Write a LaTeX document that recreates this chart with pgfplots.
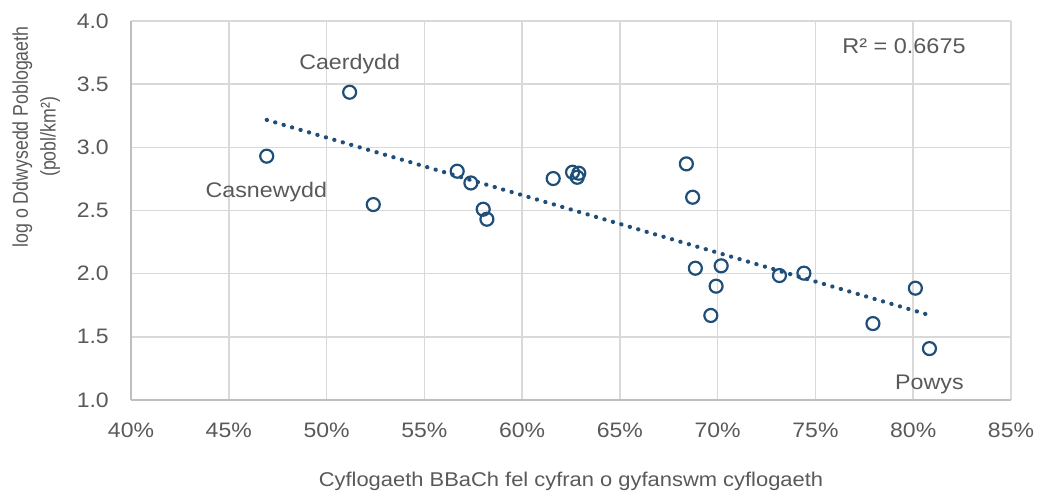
\documentclass[border=0pt]{standalone}
\usepackage{fontspec}
\setmainfont{Liberation Sans}
\usepackage{pgfplots}
\usepackage{pgfplotstable}
\pgfplotsset{compat=1.18}
\definecolor{mk}{HTML}{1F4E79}
\definecolor{grd}{HTML}{D9D9D9}
\definecolor{axl}{HTML}{BFBFBF}
\definecolor{txt}{HTML}{595959}
\pgfplotstableread{
x y
46.94 2.930
51.18 3.436
52.39 2.547
56.68 2.811
57.38 2.718
58.01 2.510
58.20 2.431
61.59 2.753
62.58 2.803
62.82 2.763
62.90 2.795
68.40 2.869
68.72 2.605
68.86 2.043
69.65 1.669
69.92 1.901
70.18 2.062
73.16 1.985
74.41 2.004
77.94 1.605
80.11 1.885
80.83 1.407
}\datatable
\begin{document}
\begin{tikzpicture}
\useasboundingbox (-131bp,-98bp) rectangle (908bp,400bp);
\begin{axis}[
  at={(0,0)}, anchor=south west,
  scale only axis, width=880bp, height=379bp,
  xmin=40, xmax=85, ymin=1, ymax=4,
  xtick={40,45,50,55,60,65,70,75,80,85},
  xticklabels={40\%,45\%,50\%,55\%,60\%,65\%,70\%,75\%,80\%,85\%},
  ytick={1,1.5,2,2.5,3,3.5,4},
  yticklabels={1.0,1.5,2.0,2.5,3.0,3.5,4.0},
  grid=major, major grid style={grd, line width=1.5bp},
  axis x line*=bottom, axis y line*=left,
  axis line style={axl, line width=1.5bp, -},
  major tick length=0pt,
  tick label style={font=\fontsize{21}{23}\selectfont, text=txt, xscale=1.1},
  xticklabel style={anchor=base, yshift=-37bp, inner sep=0pt},
  yticklabel style={anchor=east, xshift=-20bp, inner sep=0pt},
  clip=false,
]
\addplot[draw=mk, line width=4.2bp, line cap=round, dash pattern=on 0.2bp off 8.6bp, no marks]
  table[x=x, y={create col/linear regression={y=y}}]{\datatable};
\addplot[only marks, mark=o, mark size=6.5bp, mark options={mk, line width=2.2bp}]
  table[x=x, y=y]{\datatable};
\node[anchor=base, inner sep=0pt, xscale=1.1, font=\fontsize{21.2}{23}\selectfont, text=txt] at (axis cs:51.18,3.62) {Caerdydd};
\node[anchor=base, inner sep=0pt, xscale=1.1, font=\fontsize{21.2}{23}\selectfont, text=txt] at (axis cs:46.92,2.602) {Casnewydd};
\node[anchor=base, inner sep=0pt, xscale=1.1, font=\fontsize{21.2}{23}\selectfont, text=txt] at (axis cs:80.83,1.086) {Powys};
\node[anchor=base, inner sep=0pt, xscale=1.1, font=\fontsize{21.4}{23}\selectfont, text=txt] at (axis cs:79.53,3.744) {R² = 0.6675};
\node[anchor=base, inner sep=0pt, xscale=1.1, font=\fontsize{20}{22}\selectfont, text=txt] at (axis cs:62.5,1) [yshift=-86.7bp] {Cyflogaeth BBaCh fel cyfran o gyfanswm cyflogaeth};
\node[anchor=base, inner sep=0pt, rotate=90, font=\fontsize{17.8}{19}\selectfont, text=txt] at (axis cs:34.73,3.082) {\scalebox{1}[1.2]{log o Ddwysedd Poblogaeth}};
\node[anchor=base, inner sep=0pt, rotate=90, font=\fontsize{17.8}{19}\selectfont, text=txt] at (axis cs:36.14,3.082) {\scalebox{1}[1.2]{(pobl/km²)}};
\end{axis}
\end{tikzpicture}
\end{document}
